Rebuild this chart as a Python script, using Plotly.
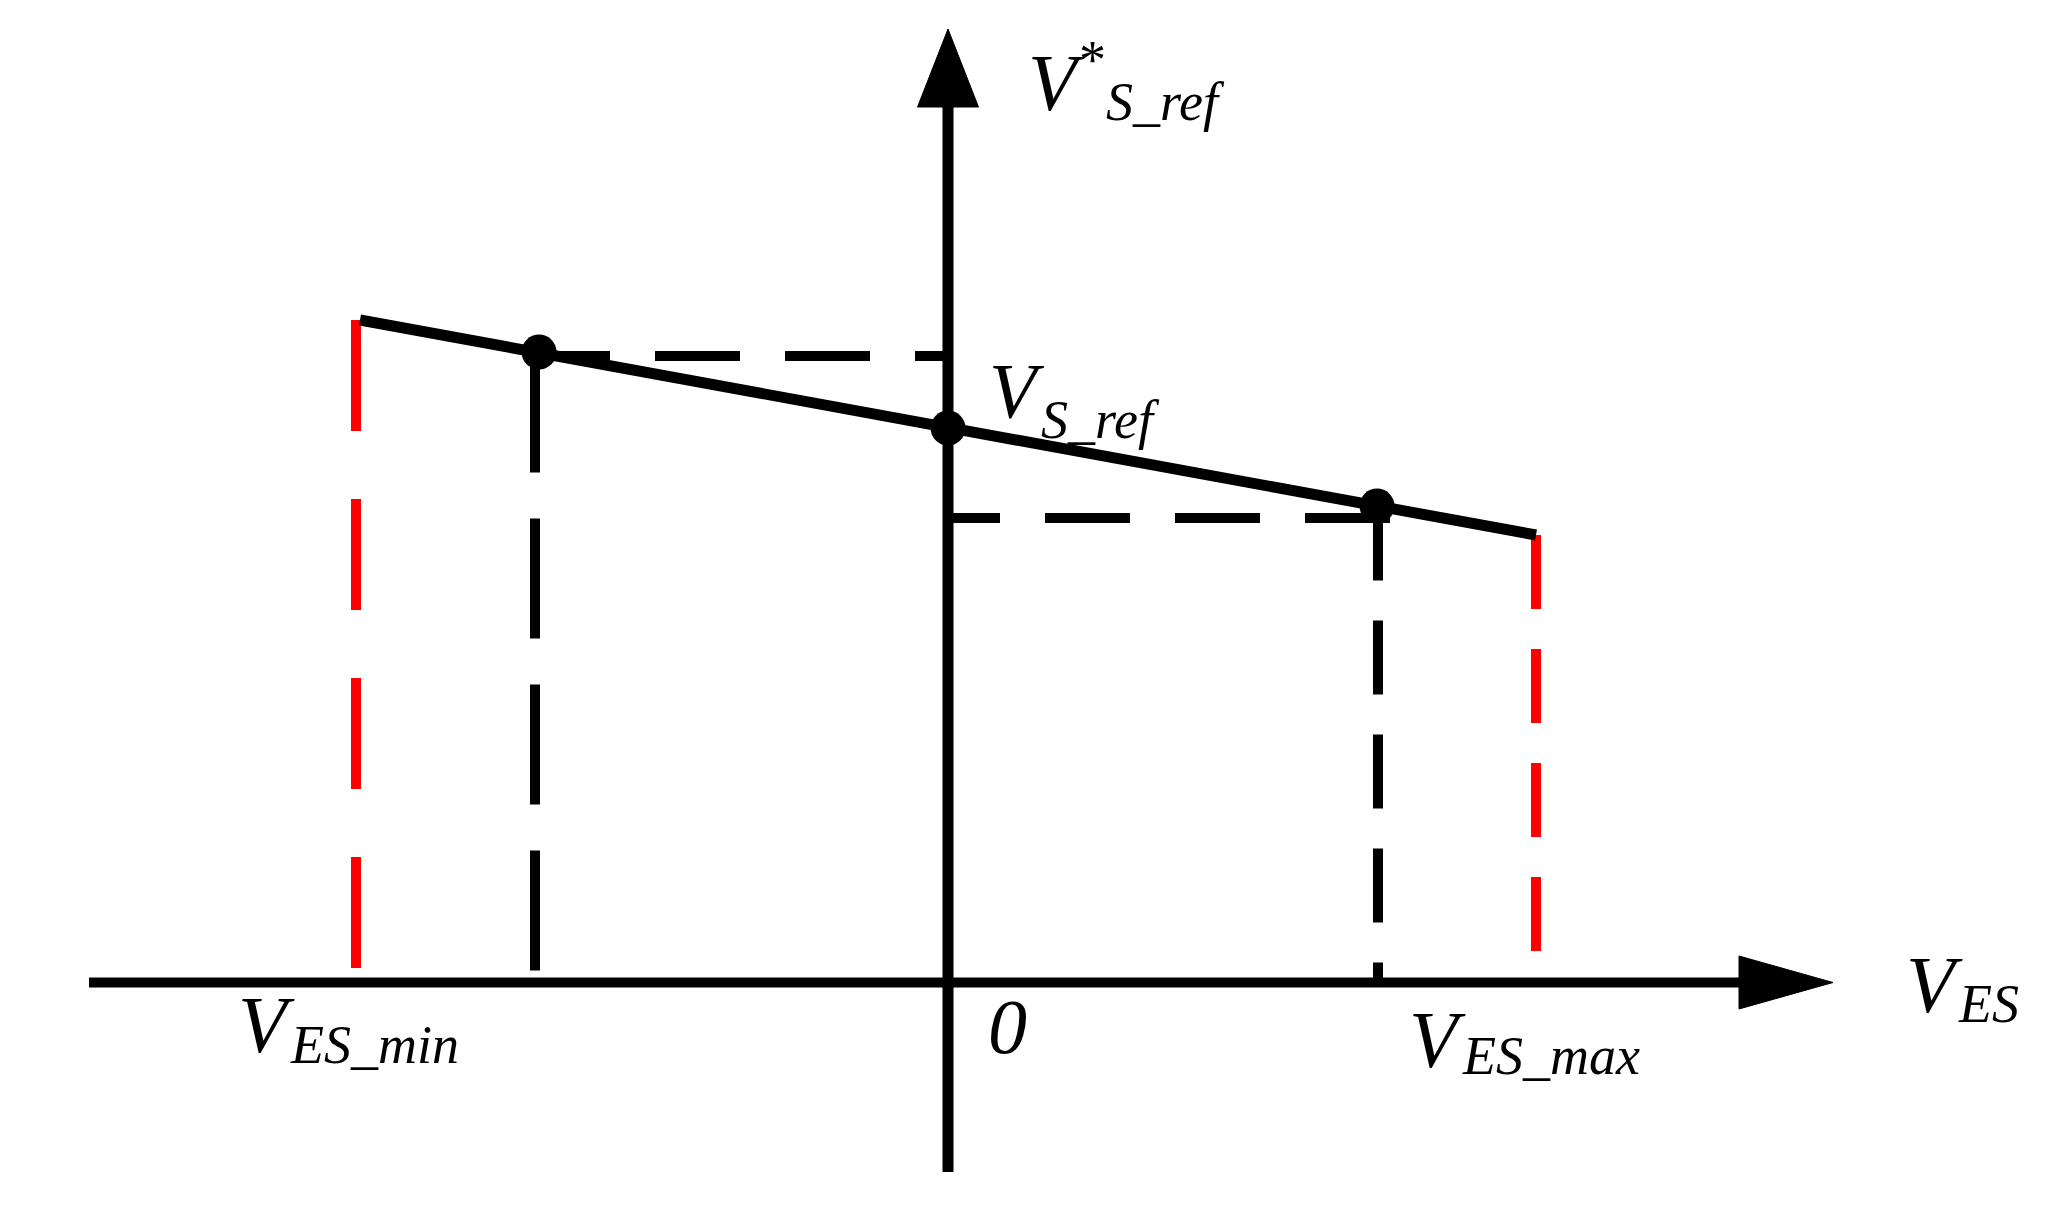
import plotly.graph_objects as go

# ---- data (arbitrary units, origin at axes crossing) ----
ves_limits = [-5.92, 5.88]              # V_ES_min, V_ES_max
droop_x = [-5.88, 5.88]                 # droop line ends
droop_y = [6.625, 4.475]
point_x = [-4.09, 0.0, 4.29]            # operating points
point_y = [6.305, 5.545, 4.765]
red_bottom = [0.145, 0.215]             # lower end of red limit lines
guide_x = [-4.13, 4.30]                 # vertical black dashed guides
guide_top = [6.30, 4.76]
hguide_y = [6.265, 4.645]               # horizontal black dashed guides
hguide_x = [-4.23, 4.42]
xaxis_ext = [-8.59, 8.85, 7.91, 0.265]  # left end, tip, arrow base, half height
yaxis_ext = [-1.895, 9.535, 8.755, 0.305]  # bottom end, tip, arrow base, half width

W, H = 2046, 1222
X0, Y0, S = 948.0, 982.5, 100.0
xr = [(0 - X0) / S, (W - X0) / S]
yr = [(Y0 - H) / S, (Y0 - 0) / S]

fig = go.Figure()
black = "#000000"
red = "#ff0000"
dash_red_left = "111px,68px"
dash_black_left = "120px,46px"
dash_right = "74px,40px"
dash_h = "85px,45px"

# red limit dashed lines
fig.add_trace(go.Scatter(x=[ves_limits[0], ves_limits[0]], y=[droop_y[0], red_bottom[0]],
                         mode="lines", line=dict(color=red, width=10, dash=dash_red_left),
                         hoverinfo="skip"))
fig.add_trace(go.Scatter(x=[ves_limits[1], ves_limits[1]], y=[droop_y[1], red_bottom[1]],
                         mode="lines", line=dict(color=red, width=10, dash=dash_right),
                         hoverinfo="skip"))
# black vertical guides
fig.add_trace(go.Scatter(x=[guide_x[0], guide_x[0]], y=[guide_top[0], 0],
                         mode="lines", line=dict(color=black, width=10, dash=dash_black_left),
                         hoverinfo="skip"))
fig.add_trace(go.Scatter(x=[guide_x[1], guide_x[1]], y=[guide_top[1], 0],
                         mode="lines", line=dict(color=black, width=10, dash=dash_right),
                         hoverinfo="skip"))
# black horizontal guides
fig.add_trace(go.Scatter(x=[hguide_x[0], 0], y=[hguide_y[0], hguide_y[0]],
                         mode="lines", line=dict(color=black, width=10, dash=dash_h),
                         hoverinfo="skip"))
fig.add_trace(go.Scatter(x=[hguide_x[1], 0], y=[hguide_y[1], hguide_y[1]],
                         mode="lines", line=dict(color=black, width=10, dash=dash_h),
                         hoverinfo="skip"))
# droop line
fig.add_trace(go.Scatter(x=droop_x, y=droop_y, mode="lines",
                         line=dict(color=black, width=11), hoverinfo="skip"))
# axes
fig.add_trace(go.Scatter(x=[xaxis_ext[0], xaxis_ext[2]], y=[0, 0], mode="lines",
                         line=dict(color=black, width=10), hoverinfo="skip"))
fig.add_trace(go.Scatter(x=[0, 0], y=[yaxis_ext[0], yaxis_ext[2]], mode="lines",
                         line=dict(color=black, width=11), hoverinfo="skip"))
# arrow heads
fig.add_trace(go.Scatter(x=[xaxis_ext[2], xaxis_ext[1], xaxis_ext[2], xaxis_ext[2]],
                         y=[xaxis_ext[3], 0, -xaxis_ext[3], xaxis_ext[3]],
                         mode="lines", fill="toself", fillcolor=black,
                         line=dict(color=black, width=1), hoverinfo="skip"))
fig.add_trace(go.Scatter(x=[-yaxis_ext[3], 0, yaxis_ext[3], -yaxis_ext[3]],
                         y=[yaxis_ext[2], yaxis_ext[1], yaxis_ext[2], yaxis_ext[2]],
                         mode="lines", fill="toself", fillcolor=black,
                         line=dict(color=black, width=1), hoverinfo="skip"))
# operating points
fig.add_trace(go.Scatter(x=point_x, y=point_y, mode="markers",
                         marker=dict(color=black, size=35), hoverinfo="skip"))

# ---- labels (paper positions in pixels: left, vertical centre, size, style) ----
FONT = "Liberation Serif, Times New Roman, serif"
labels = [
    ("V", 1026, 83, 80, "italic"), ("*", 1077, 60, 54, "normal"), ("S_ref", 1104, 102, 54, "italic"),
    ("V", 987, 391, 78, "italic"), ("S_ref", 1039, 420, 54, "italic"),
    ("V", 236, 1025, 80, "italic"), ("ES_min", 288, 1045, 54, "italic"),
    ("0", 986, 1026, 78, "italic"),
    ("V", 1407, 1040, 80, "italic"), ("ES_max", 1460, 1056, 54, "italic"),
    ("V", 1904, 985, 80, "italic"), ("ES", 1956, 1004, 54, "italic"),
]
for txt, px, py, fs, st in labels:
    fig.add_annotation(x=px / W, y=1 - py / H, xref="paper", yref="paper",
                       text=txt, showarrow=False, xanchor="left", yanchor="middle",
                       font=dict(family=FONT, size=fs, color=black, style=st))

fig.update_layout(width=W, height=H, margin=dict(l=0, r=0, t=0, b=0),
                  paper_bgcolor="white", plot_bgcolor="white", showlegend=False)
fig.update_xaxes(range=xr, visible=False, fixedrange=True)
fig.update_yaxes(range=yr, visible=False, fixedrange=True)
fig.write_html("out.html", config={"displayModeBar": False},
               post_script="document.body.style.margin='0';")
